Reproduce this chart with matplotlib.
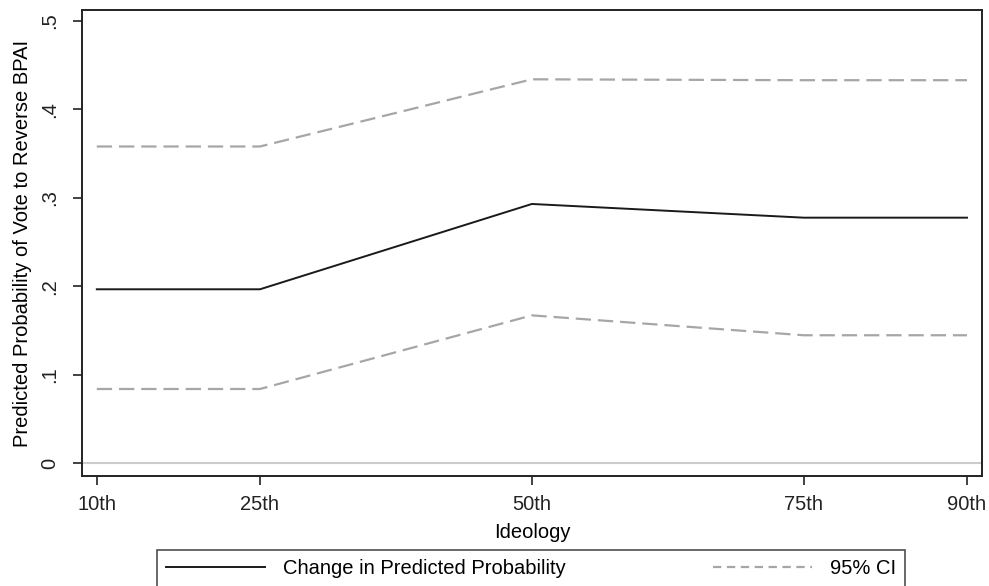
import matplotlib
matplotlib.use("Agg")
import matplotlib.pyplot as plt
from matplotlib.lines import Line2D

plt.rcParams['font.family'] = ['Liberation Sans', 'DejaVu Sans']
plt.rcParams['lines.scale_dashes'] = False

# ideology percentiles and predicted probabilities
ideology = [10, 25, 50, 75, 90]
tick_labels = ["10th", "25th", "50th", "75th", "90th"]
prob = [0.1965, 0.1965, 0.293, 0.2775, 0.2775]
ci_upper = [0.358, 0.358, 0.434, 0.433, 0.433]
ci_lower = [0.0837, 0.0837, 0.167, 0.1445, 0.1445]

fs = 14.5
fig = plt.figure(figsize=(9.89, 5.86), dpi=100)
ax = fig.add_axes([82/989, 110/586, 900/989, 466/586])

ci_col = '#a6a6a6'
ax.axhline(0, color='#cccccc', lw=1.5, zorder=1)
ax.plot(ideology, ci_upper, color=ci_col, lw=1.6, dashes=(11, 5), zorder=2)
ax.plot(ideology, ci_lower, color=ci_col, lw=1.6, dashes=(11, 5), zorder=2)
ax.plot(ideology, prob, color='#1a1a1a', lw=1.4, zorder=3)

ax.set_xlim(8.64, 91.38)
ax.set_ylim(-0.0147, 0.5124)
ax.set_xticks(ideology)
ax.set_xticklabels(tick_labels)
ax.set_yticks([0, 0.1, 0.2, 0.3, 0.4, 0.5])
ax.set_yticklabels(["0", ".1", ".2", ".3", ".4", ".5"], rotation=90, va='center')

for s in ax.spines.values():
    s.set_linewidth(1.4)
    s.set_color('#222222')
ax.tick_params(axis='both', direction='out', length=6.5, width=1.2, labelsize=fs, colors='#222222')
ax.tick_params(axis='x', pad=7)
ax.tick_params(axis='y', pad=10)

ax.set_xlabel("Ideology", fontsize=fs, labelpad=7)
ax.set_ylabel("Predicted Probability of Vote to Reverse BPAI", fontsize=fs, labelpad=6)

handles = [Line2D([], [], color='#1a1a1a', lw=1.4),
           Line2D([], [], color=ci_col, lw=1.6, dashes=(6, 4))]
fig.legend(handles, ["Change in Predicted Probability", "95% CI"],
           loc='upper left', bbox_to_anchor=(157/989, 36/586, 748/989, 0),
           mode='expand', ncol=2, fontsize=fs, frameon=True, fancybox=False,
           edgecolor='#222222', handlelength=4.9, handletextpad=0.9,
           borderpad=0.45, borderaxespad=0)
fig.legends[0].get_frame().set_linewidth(1.2)

fig.savefig("out.png", dpi=100)
